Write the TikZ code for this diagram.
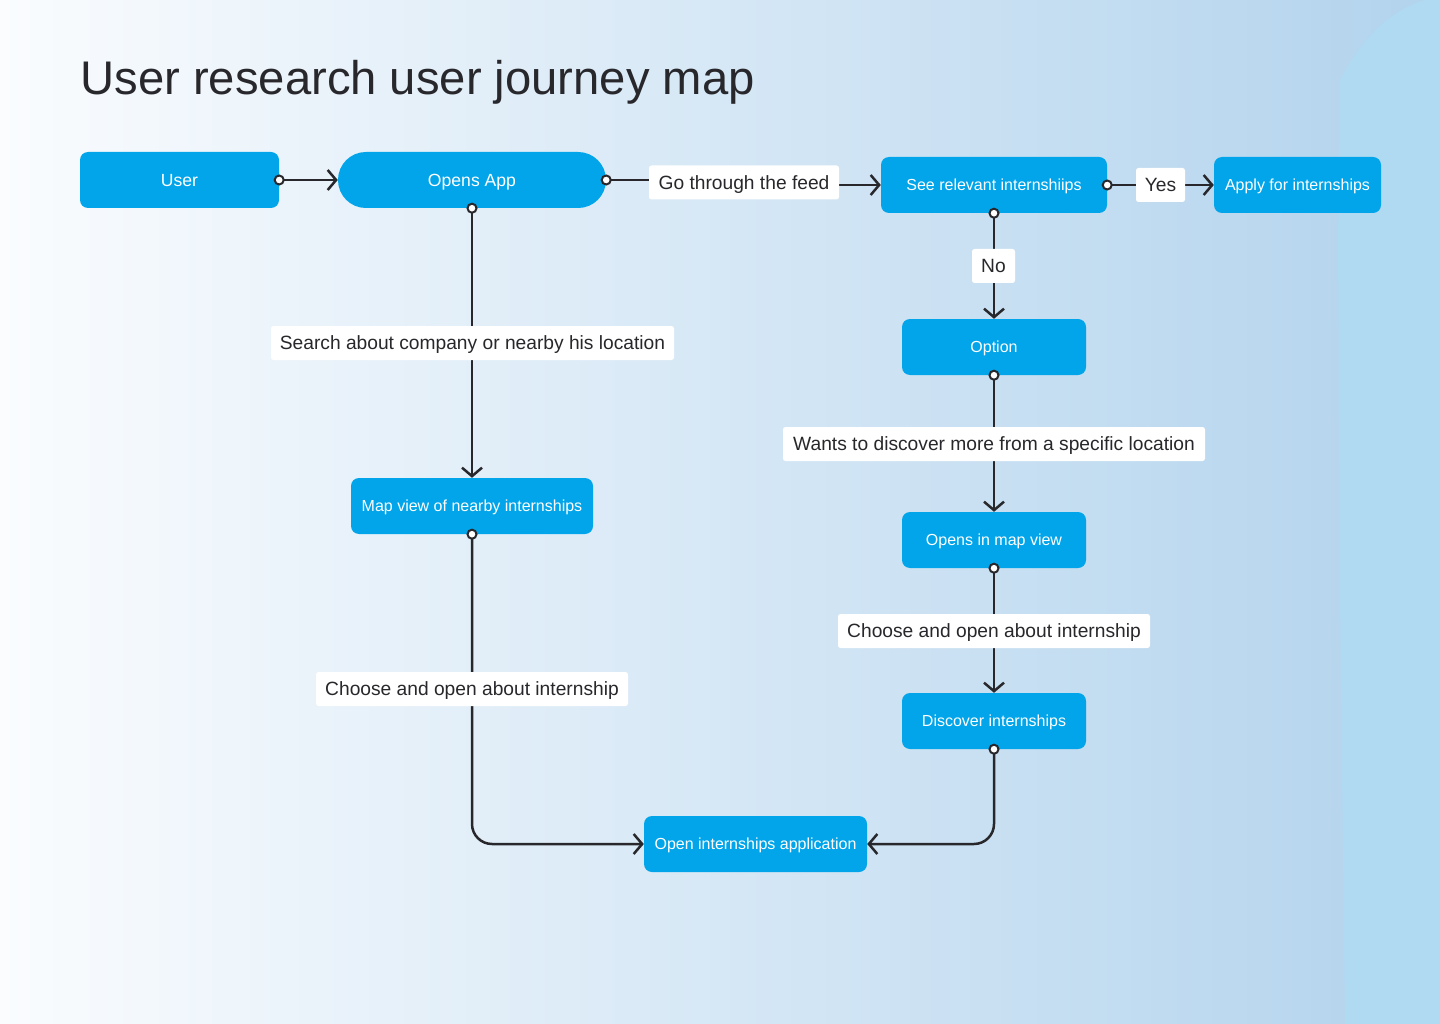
\documentclass[tikz,border=0pt]{standalone}
\usepackage{fontspec}
\setmainfont{Liberation Sans}
\usetikzlibrary{arrows.meta}
\definecolor{nodeblue}{RGB}{2,165,233}
\definecolor{ink}{RGB}{40,40,44}
\definecolor{bgL}{RGB}{250,252,254}
\definecolor{bgR}{RGB}{178,211,237}
\definecolor{blob}{RGB}{176,217,242}
\begin{document}
\begin{tikzpicture}[x=1pt,y=-1pt,
  box/.style={fill=nodeblue, text=white, rounded corners=8pt, minimum height=56pt, inner sep=0pt, text height=11.5pt, text depth=0pt, font=\fontsize{16}{19}\selectfont},
  bigbox/.style={box, text height=12.6pt, font=\fontsize{17.6}{21}\selectfont},
  pill/.style={bigbox, rounded corners=27.9pt},
  lbl/.style={fill=white, rounded corners=2.5pt, minimum height=34pt, inner sep=0pt, text height=13.75pt, text depth=0pt, text=ink, font=\fontsize{19.2}{23}\selectfont},
  conn/.style={draw=ink, line width=2.5pt, -{Straight Barb[length=8.5pt,width=20pt]}},
  dot/.style={circle, draw=ink, fill=white, line width=2pt, minimum size=9pt, inner sep=0pt}]
\useasboundingbox (0,0) rectangle (1440,1024);
\fill[left color=bgL, right color=bgR] (0,0) rectangle (1440,1024);
\fill[blob] (1345,1024) -- (1340,600) -- (1338,240) -- (1340,80) .. controls (1360,40) and (1390,10) .. (1425,0) -- (1440,0) -- (1440,1024) -- cycle;

\node[anchor=base west, text=ink, font=\fontsize{47.2}{56}\selectfont] (title) at (77,95) {User research user journey map};

\node[bigbox, minimum width=199pt] (U) at (179.5,180) {User};
\node[pill, minimum width=268pt] (OA) at (472,180) {Opens App};
\node[box, minimum width=226pt] (SR) at (994,185) {See relevant internshiips};
\node[box, minimum width=167pt] (AP) at (1297.5,185) {Apply for internships};
\node[box, minimum width=184pt] (OP) at (994,347) {Option};
\node[box, minimum width=184pt] (OMV) at (994,540) {Opens in map view};
\node[box, minimum width=184pt] (DI) at (994,721) {Discover internships};
\node[box, minimum width=242pt] (MV) at (472,506) {Map view of nearby internships};
\node[box, minimum width=223pt] (OIA) at (755.5,844) {Open internships application};

\draw[conn] (U.east) -- (OA.west);
\draw[conn] (OA.east) -- (744,180) -- (744,185) -- (SR.west);
\draw[conn] (SR.east) -- (AP.west);
\draw[conn] (SR.south) -- (OP.north);
\draw[conn] (OA.south) -- (MV.north);
\draw[conn] (OP.south) -- (OMV.north);
\draw[conn] (OMV.south) -- (DI.north);
\draw[conn, rounded corners=20pt] (MV.south) |- (OIA.west);
\draw[conn, rounded corners=20pt] (DI.south) |- (OIA.east);

\node[lbl, minimum width=190pt] (l1) at (744,182.5) {Go through the feed};
\node[lbl, minimum width=49pt] (l2) at (1160.5,185) {Yes};
\node[lbl, minimum width=43pt] (l3) at (993.5,266) {No};
\node[lbl, minimum width=403pt] (l4) at (472.5,343) {Search about company or nearby his location};
\node[lbl, minimum width=422pt] (l5) at (994,444) {Wants to discover more from a specific location};
\node[lbl, minimum width=312pt] (l6) at (994,631) {Choose and open about internship};
\node[lbl, minimum width=312pt] (l7) at (472,689) {Choose and open about internship};

\foreach \a in {U.east, OA.east, OA.south, SR.east, SR.south, OP.south, MV.south, OMV.south, DI.south}
  \node[dot] at (\a) {};
\end{tikzpicture}
\end{document}
